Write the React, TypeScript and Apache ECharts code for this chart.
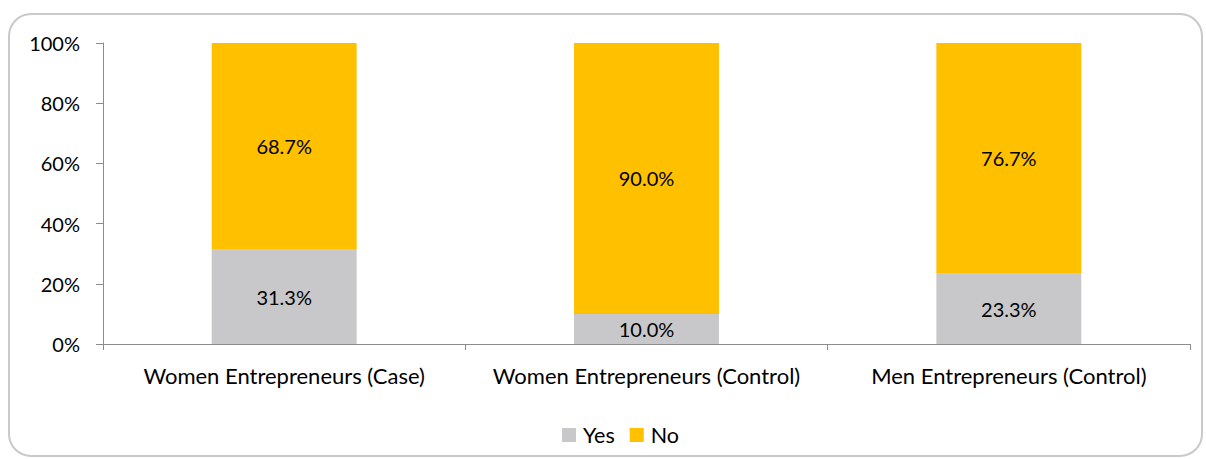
import React, { useEffect, useRef } from "react";
import * as echarts from "echarts";

const categories = [
  "Women Entrepreneurs (Case)",
  "Women Entrepreneurs (Control)",
  "Men Entrepreneurs (Control)",
];
const yesValues = [31.3, 10.0, 23.3];
const noValues = [68.7, 90.0, 76.7];
const seriesNames = ["Yes", "No"];

const FONT = "Lato, 'Open Sans', sans-serif";

export default function App() {
  const ref = useRef<HTMLDivElement>(null);
  useEffect(() => {
    document.body.style.margin = "0";
    const chart = echarts.init(ref.current!, null, { renderer: "svg" });
    const labelStyle = {
      show: true,
      position: "inside" as const,
      color: "#000",
      fontSize: 20,
      fontFamily: FONT,
      formatter: (p: any) => p.value.toFixed(1) + "%",
    };
    chart.setOption({
      animation: false,
      textStyle: { fontFamily: FONT },
      graphic: [
        {
          type: "rect",
          shape: { x: 9, y: 14, width: 1193, height: 442, r: 22 },
          style: { fill: "none", stroke: "#c9c9c9", lineWidth: 2 },
          silent: true,
        },
      ],
      grid: { left: 103, top: 43, width: 1087, height: 301 },
      legend: {
        data: seriesNames,
        left: 557,
        top: 419,
        itemWidth: 14,
        itemHeight: 14,
        itemGap: 15,
        icon: "rect",
        textStyle: { fontSize: 21.5, color: "#000", fontFamily: FONT, padding: [0, 0, 0, 2] },
      },
      xAxis: {
        type: "category",
        data: categories,
        axisLine: { lineStyle: { color: "#8c8c8c", width: 1 } },
        axisTick: { show: true, length: 6, lineStyle: { color: "#8c8c8c" } },
        axisLabel: {
          fontSize: 22,
          color: "#000",
          margin: 20,
          fontFamily: FONT,
          interval: 0,
          hideOverlap: false,
        },
      },
      yAxis: {
        type: "value",
        min: 0,
        max: 100,
        interval: 20,
        splitLine: { show: false },
        axisLine: { show: true, lineStyle: { color: "#8c8c8c", width: 1 } },
        axisTick: { show: true, length: 7, lineStyle: { color: "#8c8c8c" } },
        axisLabel: {
          fontSize: 20,
          color: "#000",
          margin: 23,
          fontFamily: FONT,
          formatter: (v: number) => v + "%",
        },
      },
      series: [
        {
          name: seriesNames[0],
          type: "bar",
          stack: "total",
          data: yesValues,
          barWidth: "40%",
          itemStyle: { color: "#c8c8ca" },
          label: labelStyle,
        },
        {
          name: seriesNames[1],
          type: "bar",
          stack: "total",
          data: noValues,
          barWidth: "40%",
          itemStyle: { color: "#ffc000" },
          label: labelStyle,
        },
      ],
    });
    return () => chart.dispose();
  }, []);
  return <div ref={ref} style={{ width: 1206, height: 459 }} />;
}
